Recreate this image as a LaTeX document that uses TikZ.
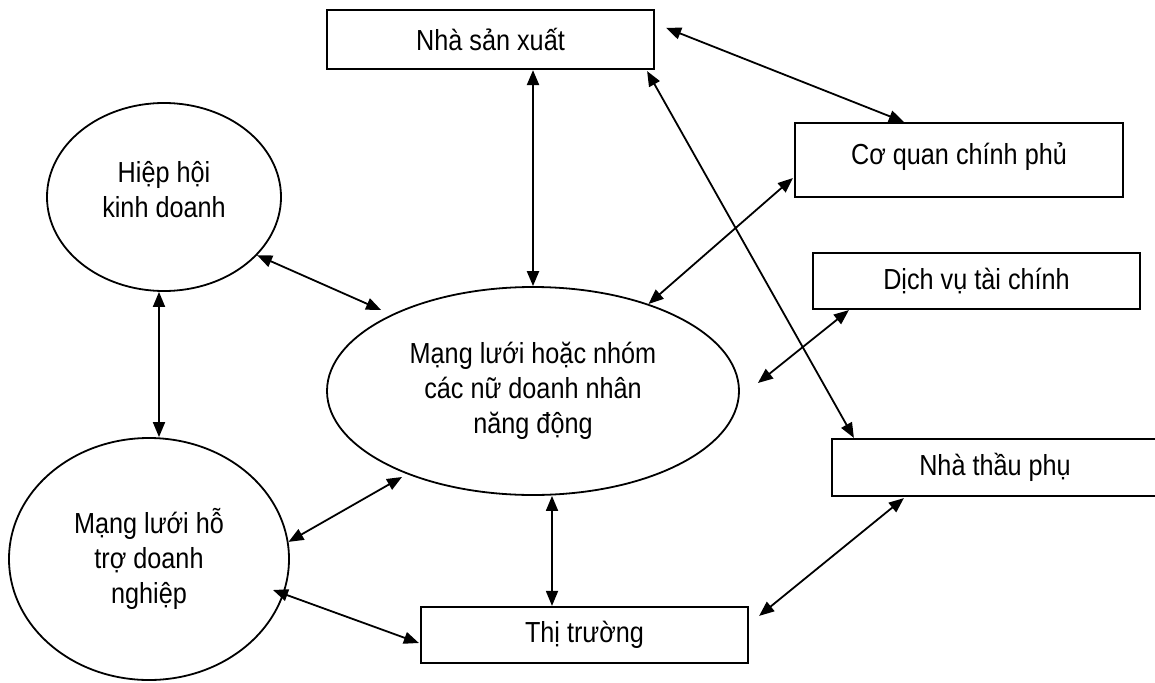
\documentclass[tikz,border=0pt]{standalone}
\usepackage{fontspec}
\setmainfont{Liberation Sans}[FakeStretch=0.87]
\usetikzlibrary{shapes.geometric,arrows.meta,calc}
\begin{document}
\begin{tikzpicture}[x=1pt,y=-1pt,
  every node/.style={font=\fontsize{29}{35}\selectfont, align=center, inner sep=0pt},
  box/.style={draw, rectangle, line width=2.2pt},
  oval/.style={draw, ellipse, line width=1.8pt},
  link/.style={{Triangle[length=15pt,width=12pt]}-{Triangle[length=15pt,width=12pt]}, line width=1.8pt}]
\fill[white] (0,0) rectangle (1155,682);
\useasboundingbox (0,0) rectangle (1155,682);
% boxes
\node[box, minimum width=327pt, minimum height=59pt] (nsx) at (490.5,39.5) {Nhà sản xuất};
\node[box, minimum width=328pt, minimum height=74pt, text depth=13pt] (cq) at (959,160) {Cơ quan chính phủ};
\node[box, minimum width=327pt, minimum height=56pt] (dv) at (976.5,281) {Dịch vụ tài chính};
\node[box, minimum width=326pt, minimum height=57pt] (ntp) at (995,467.5) {Nhà thầu phụ};
\node[box, minimum width=327pt, minimum height=56pt] (tt) at (584.5,635) {Thị trường};
% ellipses
\node[oval, minimum width=234pt, minimum height=188pt] (hh) at (164,197) {Hiệp hội\\kinh doanh\\[-19pt]};
\node[oval, minimum width=412pt, minimum height=208pt] (m) at (533,391) {Mạng lưới hoặc nhóm\\các nữ doanh nhân\\năng động};
\node[oval, minimum width=280pt, minimum height=242pt] (ht) at (149,559) {Mạng lưới hỗ\\trợ doanh\\nghiệp};
% connectors
\draw[link, line width=2.2pt] (m.north) -- (m.north |- nsx.south);
\draw[link] ($(nsx.north east)+(11,19)$) -- ($(cq.north west)+(110,0)$);
\draw[link] ($(nsx.south east)+(-8,1)$) -- ($(ntp.north west)+(23,0)$);
\draw[link] ($(cq.west)+(-1,18)$) -- (m.37.2);
\draw[link] ($(dv.south west)+(37,0)$) -- ($(m.east)+(18,-8)$);
\draw[link] (hh.-32) -- ($(m.west)+(55,-81)$);
\coordinate (hhb) at ($(hh.south)+(-5,0)$);
\draw[link] (hhb) -- (hhb |- ht.north);
\draw[link] (ht.7) -- ($(m.center)+(-131,86)$);
\draw[link] ($(ht.center)+(124,31)$) -- ($(tt.west)+(-1,8)$);
\coordinate (mtt) at ($(tt.north)+(-32.5,0)$);
\draw[link] (mtt) -- (mtt |- m.south);
\draw[link] ($(tt.north east)+(10,10)$) -- ($(ntp.south west)+(73,1)$);
\end{tikzpicture}
\end{document}
